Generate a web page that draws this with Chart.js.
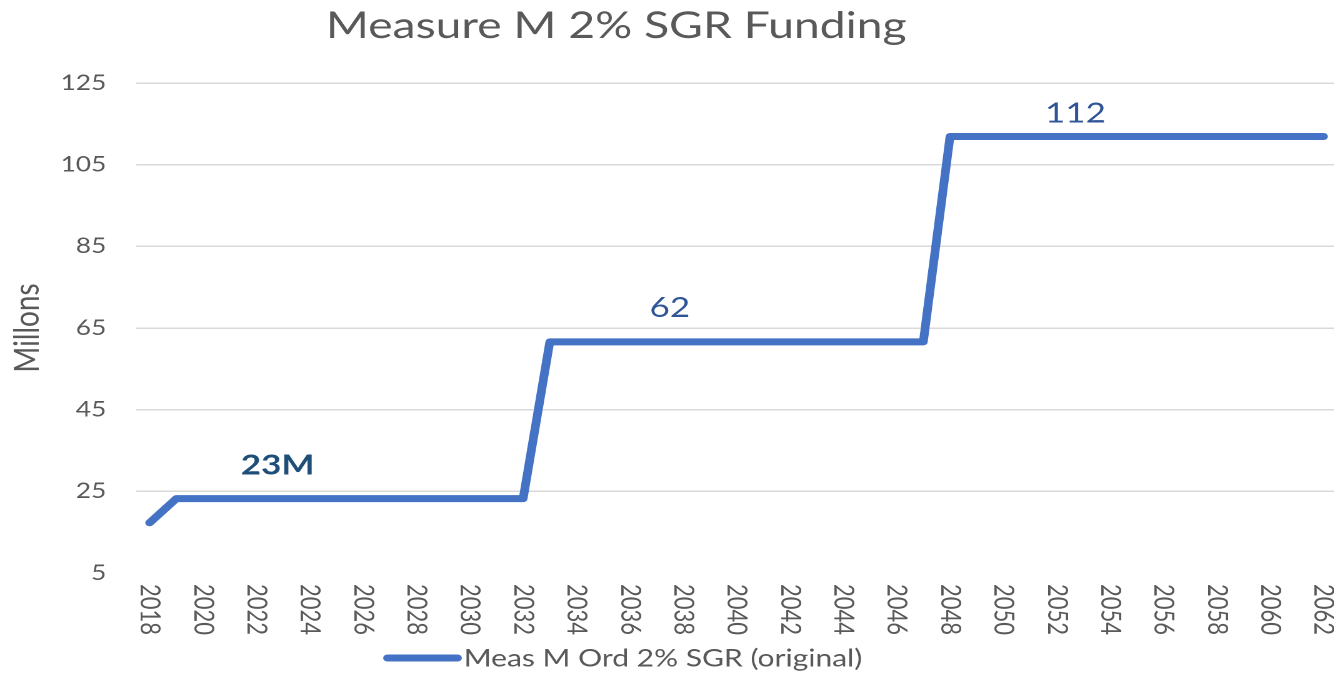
<!DOCTYPE html>
<html>
<head>
<meta charset="utf-8">
<title>Measure M 2% SGR Funding</title>
<script src="https://cdn.jsdelivr.net/npm/chart.js@4.4.0/dist/chart.umd.min.js"></script>
<style>
  html, body { margin: 0; padding: 0; background: #fff; overflow: hidden; }
  /* the source picture is stretched sideways, so the chart is too */
  #wrap { width: 1073px; height: 700px; transform: scaleX(1.25); transform-origin: 0 0; }
</style>
</head>
<body>
<div id="wrap"><canvas id="grafico"></canvas></div>
<script>
// data
const years = ['2018', '2019', '2020', '2021', '2022', '2023', '2024', '2025', '2026', '2027',
  '2028', '2029', '2030', '2031', '2032', '2033', '2034', '2035', '2036', '2037',
  '2038', '2039', '2040', '2041', '2042', '2043', '2044', '2045', '2046', '2047',
  '2048', '2049', '2050', '2051', '2052', '2053', '2054', '2055', '2056', '2057',
  '2058', '2059', '2060', '2061', '2062'];
const sgrFunding = [17.3, 23.2, 23.2, 23.2, 23.2, 23.2, 23.2, 23.2, 23.2, 23.2,
  23.2, 23.2, 23.2, 23.2, 23.2, 61.6, 61.6, 61.6, 61.6, 61.6,
  61.6, 61.6, 61.6, 61.6, 61.6, 61.6, 61.6, 61.6, 61.6, 61.6,
  111.9, 111.9, 111.9, 111.9, 111.9, 111.9, 111.9, 111.9, 111.9, 111.9,
  111.9, 111.9, 111.9, 111.9, 111.9];
const yTicks = [5, 25, 45, 65, 85, 105, 125];
const seriesName = 'Meas M Ord 2% SGR (original)';
const chartTitle = 'Measure M 2% SGR Funding';
const yTitle = 'Millons';
const labelTexts = ['23M', '62', '112'];
const labelYears = [2022.8, 2037.5, 2052.7];

const gris = '#595959';
const azul = '#4472C4';
const fuente = 'Lato, "Noto Sans", sans-serif';

// title, rotated year labels, value labels and legend
const extras = {
  id: 'extras',
  afterDraw(chart) {
    const ctx = chart.ctx;
    const x = chart.scales.x;
    const y = chart.scales.y;
    ctx.save();

    // title
    ctx.fillStyle = gris;
    ctx.font = '37px ' + fuente;
    ctx.textAlign = 'center';
    ctx.textBaseline = 'alphabetic';
    ctx.fillText(chartTitle, 493, 38);

    // year labels, every 2nd, turned clockwise
    ctx.font = '22px ' + fuente;
    ctx.textAlign = 'left';
    ctx.textBaseline = 'middle';
    years.forEach((yr, i) => {
      if (i % 2 !== 0) return;
      ctx.save();
      ctx.translate(x.getPixelForValue(i), 584);
      ctx.rotate(Math.PI / 2);
      ctx.fillText(yr, 0, 0);
      ctx.restore();
    });

    // value labels above the steps
    const estilos = [
      { font: 'bold 28px ' + fuente, color: '#1F4E79', dy: -33 },
      { font: '28px ' + fuente, color: '#2F5597', dy: -34 },
      { font: '28px ' + fuente, color: '#2F5597', dy: -23 }
    ];
    ctx.textAlign = 'center';
    labelTexts.forEach((t, k) => {
      const idx = labelYears[k] - 2018;
      const v = sgrFunding[Math.round(idx)];
      ctx.font = estilos[k].font;
      ctx.fillStyle = estilos[k].color;
      ctx.fillText(t, x.getPixelForValue(idx), y.getPixelForValue(v) + estilos[k].dy);
    });

    // legend
    ctx.strokeStyle = azul;
    ctx.lineWidth = 7;
    ctx.lineCap = 'round';
    ctx.beginPath();
    ctx.moveTo(310, 658);
    ctx.lineTo(366, 658);
    ctx.stroke();
    ctx.fillStyle = gris;
    ctx.font = '24px ' + fuente;
    ctx.textAlign = 'left';
    ctx.fillText(seriesName, 371, 659);

    ctx.restore();
  }
};

const ctx = document.getElementById('grafico').getContext('2d');
const grafico = new Chart(ctx, {
  type: 'line',
  data: {
    labels: years,
    datasets: [{
      label: seriesName,
      data: sgrFunding,
      borderColor: azul,
      backgroundColor: azul,
      borderWidth: 7,
      borderCapStyle: 'round',
      borderJoinStyle: 'round',
      pointRadius: 0,
      tension: 0,
      fill: false
    }]
  },
  options: {
    responsive: true,
    maintainAspectRatio: false,
    devicePixelRatio: 2,
    animation: false,
    layout: { padding: { top: 83, right: 0, bottom: 0, left: 0 } },
    plugins: {
      legend: { display: false },
      title: { display: false },
      tooltip: { enabled: false }
    },
    scales: {
      x: {
        type: 'category',
        offset: true,
        grid: { display: false },
        border: { display: false },
        ticks: { display: false },
        afterFit(scale) { scale.height = 127; }
      },
      y: {
        min: 5,
        max: 125,
        afterBuildTicks(scale) { scale.ticks = yTicks.map(v => ({ value: v })); },
        grid: {
          drawTicks: false,
          lineWidth: 1.5,
          color: c => (c.tick && c.tick.value === 5) ? 'rgba(0,0,0,0)' : '#D9D9D9'
        },
        border: { display: false },
        ticks: {
          padding: 24,
          color: gris,
          font: { family: fuente, size: 21 }
        },
        title: {
          display: true,
          text: yTitle,
          color: gris,
          font: { family: fuente, size: 28 },
          padding: { top: 5, bottom: 0 }
        },
        afterFit(scale) { scale.width = 109; }
      }
    }
  },
  plugins: [extras]
});
</script>
</body>
</html>
